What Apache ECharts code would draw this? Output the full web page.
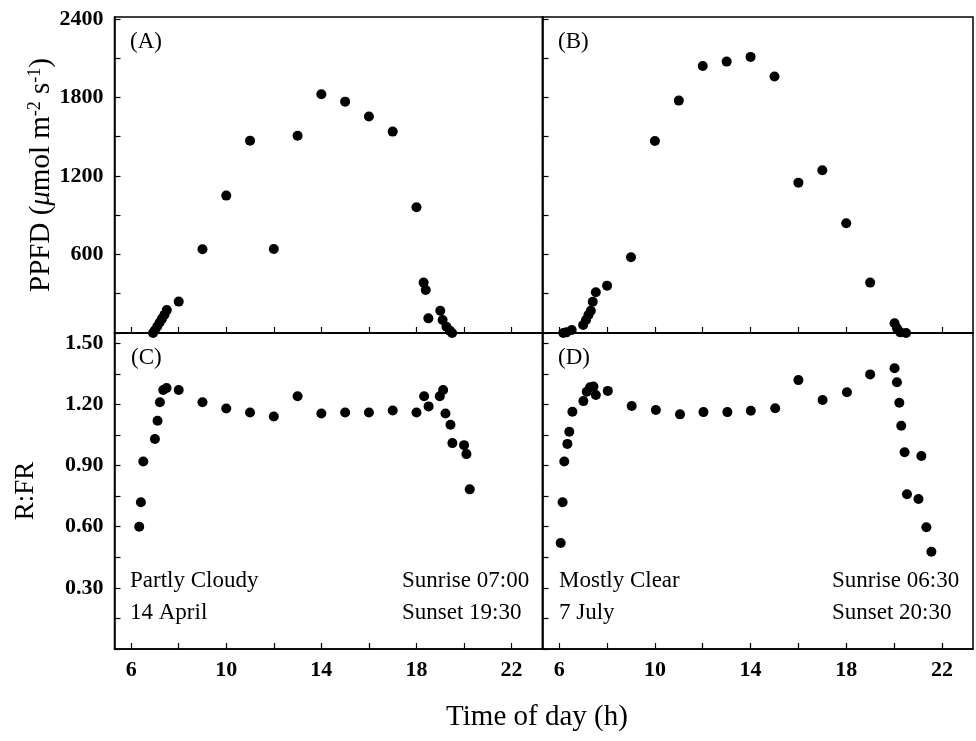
<!DOCTYPE html>
<html><head><meta charset="utf-8">
<script src="https://cdn.jsdelivr.net/npm/echarts@6/dist/echarts.min.js"></script>
<style>html,body{margin:0;padding:0;background:#fff}#c{width:976px;height:741px}</style>
</head><body><div id="c"></div>
<script>
// ---- data ----
const ppfdA_time = [6.92,7.0,7.1,7.2,7.3,7.4,7.5,8,9,10,11,12,13,14,15,16,17,18,18.3,18.39,18.5,19.0,19.1,19.26,19.4,19.5];
const ppfdA      = [0,20,50,80,110,140,175,240,640,1050,1470,642,1508,1825,1768,1654,1539,961,385,329,112,170,99,48,18,0];
const ppfdB_time = [6.17,6.3,6.52,7.0,7.12,7.22,7.32,7.4,7.53,8,9,10,11,12,13,14,15,16,17,18,19,20.02,20.12,20.26,20.5];
const ppfdB      = [0,5,23,61,100,138,170,239,311,362,579,1468,1776,2041,2074,2110,1960,1149,1244,839,385,74,36,5,0];
const rfrC_time  = [6.34,6.41,6.51,7.0,7.11,7.21,7.35,7.49,8,9,10,11,12,13,14,15,16,17,18,18.32,18.51,18.98,19.12,19.22,19.43,19.51,20.0,20.1,20.24];
const rfrC       = [0.60,0.72,0.92,1.03,1.12,1.21,1.27,1.28,1.27,1.21,1.18,1.16,1.14,1.24,1.155,1.16,1.16,1.17,1.16,1.24,1.19,1.24,1.27,1.155,1.10,1.01,1.00,0.956,0.783];
const rfrD_time  = [6.06,6.14,6.21,6.34,6.42,6.55,7.01,7.15,7.29,7.43,7.53,8.03,9.03,10.04,11.05,12.03,13.03,14.01,15.03,16,17.01,18.03,19,20.02,20.12,20.22,20.3,20.44,20.54,21.02,21.14,21.35,21.56];
const rfrD       = [0.52,0.72,0.92,1.006,1.066,1.164,1.216,1.262,1.284,1.287,1.246,1.266,1.192,1.172,1.151,1.162,1.162,1.169,1.181,1.319,1.221,1.259,1.347,1.377,1.308,1.208,1.095,0.965,0.759,0.736,0.947,0.597,0.477];

const xTicks          = [6,8,10,12,14,16,18,20,22];
const xTickLabels     = [6,10,14,18,22];
const ppfdTicks       = [0,300,600,900,1200,1500,1800,2100,2400];
const ppfdTickLabels  = [600,1200,1800,2400];
const rfrTicks        = [0,0.15,0.30,0.45,0.60,0.75,0.90,1.05,1.20,1.35,1.50];
const rfrTickLabels   = [0.30,0.60,0.90,1.20,1.50];

const panelLetters = ['(A)','(B)','(C)','(D)'];
const noteC = ['Partly Cloudy','14 April','Sunrise 07:00','Sunset 19:30'];
const noteD = ['Mostly Clear','7 July','Sunrise 06:30','Sunset 20:30'];

// ---- layout ----
const FONT = '"Liberation Serif","Times New Roman",serif';
const chart = echarts.init(document.getElementById('c'));
const grids = [
  {left:114.5, top:17,  width:428, height:316},
  {left:542.5, top:17,  width:430.5, height:316},
  {left:114.5, top:333, width:428, height:316},
  {left:542.5, top:333, width:430.5, height:316}
].map(g => Object.assign(g, {show:true, borderColor:'#000', borderWidth:1.5, backgroundColor:'transparent'}));

const line = {show:true, onZero:false, lineStyle:{color:'#000', width:1.5}};
const lab = {color:'#000', fontFamily:FONT, fontSize:22, fontWeight:'bold'};

function xAx(i, labels){
  return {type:'value', gridIndex:i, min:5.3, max:23.3, axisLine:line, splitLine:{show:false},
    axisTick:{show:true, inside:true, length:6, customValues:xTicks, lineStyle:{color:'#000', width:1.2}},
    axisLabel: labels ? Object.assign({show:true, margin:10, customValues:xTickLabels}, lab) : {show:false}};
}
function yAx(i, top, labels, name, nameSize, gap){
  const ax = {type:'value', gridIndex:i, min:0, max: top ? 2415 : 1.55, axisLine:line, splitLine:{show:false},
    axisTick:{show:true, inside:true, length:6, customValues: top ? ppfdTicks : rfrTicks, lineStyle:{color:'#000', width:1.2}},
    axisLabel: labels ? Object.assign({show:true, margin:11, customValues: top ? ppfdTickLabels : rfrTickLabels,
       formatter: v => top ? String(v) : Number(v).toFixed(2)}, lab) : {show:false}};
  if (name) {
    ax.name = name; ax.nameLocation = 'middle'; ax.nameGap = gap;
    ax.nameTextStyle = {color:'#000', fontFamily:FONT, fontSize:nameSize,
      rich:{a:{fontFamily:FONT, fontSize:nameSize, color:'#000'},
            m:{fontFamily:FONT, fontSize:nameSize, fontStyle:'italic', color:'#000'},
            s:{fontFamily:FONT, fontSize:Math.round(nameSize*0.62), color:'#000', verticalAlign:'top'}}};
  }
  return ax;
}

const series = [[ppfdA_time,ppfdA],[ppfdB_time,ppfdB],[rfrC_time,rfrC],[rfrD_time,rfrD]].map((p,i)=>({
  type:'scatter', xAxisIndex:i, yAxisIndex:i, symbol:'circle', symbolSize:10,
  itemStyle:{color:'#000', opacity:1}, silent:true, animation:false,
  data: p[0].map((t,k)=>[t, p[1][k]])
}));

function txt(x, y, s, size, align){
  return {type:'text', x:x, y:y, silent:true,
    style:{text:s, fill:'#000', font: size+'px '+FONT, fontSize:size, fontFamily:FONT,
      align:align||'left', verticalAlign:'middle', textAlign:align||'left', textVerticalAlign:'middle'}};
}

const graphics = [
  txt(130, 42, panelLetters[0], 23), txt(558, 42, panelLetters[1], 23),
  txt(131, 358, panelLetters[2], 23), txt(558, 358, panelLetters[3], 23),
  txt(130, 581, noteC[0], 23), txt(130, 613, noteC[1], 23),
  txt(402, 581, noteC[2], 23), txt(402, 613, noteC[3], 23),
  txt(559, 581, noteD[0], 23), txt(559, 613, noteD[1], 23),
  txt(832, 581, noteD[2], 23), txt(832, 613, noteD[3], 23),
  txt(537, 717, 'Time of day (h)', 29, 'center')
];

chart.setOption({
  animation:false,
  backgroundColor:'#fff',
  grid: grids,
  xAxis: [xAx(0,false), xAx(1,false), xAx(2,true), xAx(3,true)],
  yAxis: [
    yAx(0, true, true, '{a|PPFD (}{m|μ}{a|mol m}{s|-2}{a| s}{s|-1}{a|)}', 29, 58),
    yAx(1, true, false),
    yAx(2, false, true, '{a|R:FR}', 27, 75),
    yAx(3, false, false)
  ],
  series: series,
  graphic: graphics
});
</script></body></html>
